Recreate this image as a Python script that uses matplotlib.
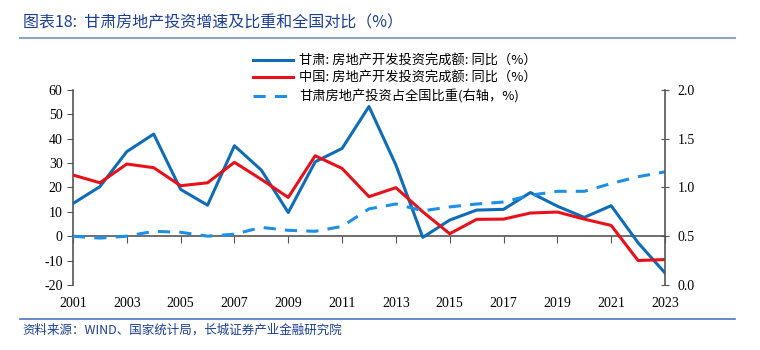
import matplotlib.pyplot as plt
from matplotlib.lines import Line2D

plt.rcParams['font.family'] = ['Noto Sans CJK SC', 'DejaVu Sans']
plt.rcParams['axes.unicode_minus'] = False

# 数据
years = list(range(2001, 2024))
gansu_yoy = [13.4, 20.3, 34.7, 41.9, 19.2, 12.7, 37.1, 27.1, 9.7, 30.5, 36.0, 53.2,
             29.2, -0.5, 6.6, 10.7, 11.0, 17.9, 12.3, 7.7, 12.5, -2.7, -15.1]
china_yoy = [25.1, 21.9, 29.6, 28.1, 20.7, 21.9, 30.3, 23.3, 15.9, 33.0, 27.8, 16.2,
             19.9, 10.0, 1.0, 6.9, 7.0, 9.5, 9.9, 7.0, 4.4, -10.0, -9.6]
gansu_share = [0.50, 0.48, 0.50, 0.55, 0.54, 0.50, 0.52, 0.59, 0.56, 0.55, 0.60, 0.78,
               0.83, 0.76, 0.80, 0.83, 0.85, 0.92, 0.96, 0.96, 1.04, 1.11, 1.16]
xtick_years = list(range(2001, 2024, 2))

labels = ['甘肃: 房地产开发投资完成额: 同比（%）',
          '中国: 房地产开发投资完成额: 同比（%）',
          '甘肃房地产投资占全国比重(右轴，%)']

c_blue = '#0F6CB6'
c_red = '#E8111A'
c_dash = '#1E8FE6'
c_title = '#1B3F94'

fig = plt.figure(figsize=(7.6, 3.5), dpi=100)
ax = fig.add_axes([0.096, 0.186, 0.779, 0.557])
ax2 = ax.twinx()

ax.plot(years, gansu_yoy, color=c_blue, lw=2.2, zorder=3)
ax.plot(years, china_yoy, color=c_red, lw=2.2, zorder=3)
ax2.plot(years, gansu_share, color=c_dash, lw=2.2, ls=(0, (4, 3)))

ax.set_xlim(2001, 2023)
ax.set_ylim(-20, 60)
ax.set_yticks(range(-20, 61, 10))
ax2.set_ylim(0, 2.0)
ax2.set_yticks([0, 0.5, 1.0, 1.5, 2.0])
ax2.set_yticklabels(['0.0', '0.5', '1.0', '1.5', '2.0'])
ax.set_xticks(xtick_years)

for a in (ax, ax2):
    a.spines['top'].set_visible(False)
    a.patch.set_visible(False)
ax.spines['bottom'].set_position(('data', 0))
ax.spines['right'].set_visible(False)
ax2.spines['left'].set_visible(False)
ax2.spines['bottom'].set_visible(False)
for sp in ('left', 'bottom'):
    ax.spines[sp].set_color('#555555')
    ax.spines[sp].set_linewidth(1.2)
ax2.spines['right'].set_color('#555555')
ax2.spines['right'].set_linewidth(1.2)

ax.tick_params(axis='x', direction='out', length=5, pad=39, labelsize=10, color='#555555')
ax.tick_params(axis='y', direction='out', length=4, labelsize=10, color='#555555')
ax2.tick_params(axis='y', direction='inout', length=6, labelsize=10, color='#555555', pad=6)
for lab in ax.get_xticklabels() + ax.get_yticklabels() + ax2.get_yticklabels():
    lab.set_family(['Liberation Serif', 'DejaVu Serif'])

handles = [Line2D([], [], color=c_blue, lw=2.2),
           Line2D([], [], color=c_red, lw=2.2),
           Line2D([], [], color=c_dash, lw=2.2, ls=(0, (4, 3)))]
fig.legend(handles, labels, loc='upper left', bbox_to_anchor=(0.326, 0.86),
           frameon=False, fontsize=9.5, handlelength=3.0, handletextpad=0.5,
           labelspacing=0.35, borderaxespad=0)

fig.text(0.03, 0.935, '图表18:  甘肃房地产投资增速及比重和全国对比（%）',
         fontsize=11.5, color=c_title, style='italic', va='center')
fig.add_artist(Line2D([0.026, 0.967], [0.892, 0.892], color='#8FA3C8', lw=1.5))
fig.add_artist(Line2D([0.026, 0.967], [0.088, 0.088], color='#4A74C0', lw=1.2))
fig.text(0.03, 0.058, '资料来源：WIND、国家统计局，长城证券产业金融研究院',
         fontsize=9, color=c_title, style='italic', va='center')

fig.savefig('out.png', dpi=100)
